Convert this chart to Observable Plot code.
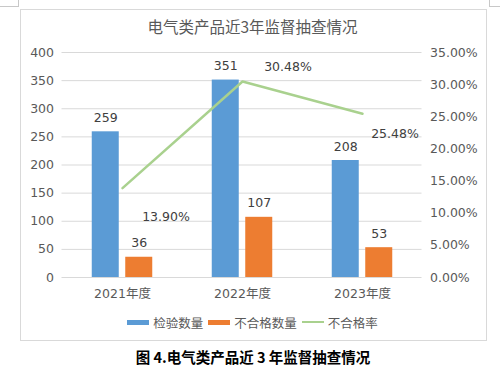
<!DOCTYPE html>
<html>
<head>
<meta charset="utf-8">
<script src="https://cdn.jsdelivr.net/npm/d3@7"></script>
<script src="https://cdn.jsdelivr.net/npm/@observablehq/plot@0.6"></script>
<style>
  html, body { margin: 0; padding: 0; background: #fff; }
  #page { position: relative; width: 500px; height: 378px; overflow: hidden;
          font-family: "DejaVu Sans", "Noto Sans CJK SC", sans-serif; }
  .mark { position: absolute; background: #C8C8C8; }
  #frame { position: absolute; left: 20px; top: 9px; width: 467px; height: 332px;
           box-sizing: border-box; border: 1px solid #D9D9D9; }
  #title { position: absolute; left: 0; width: 505px; top: 16px; text-align: center;
           font-family: "Noto Sans CJK SC", sans-serif; font-size: 15.5px; color: #595959; line-height: 20px; }
  #chart { position: absolute; left: 0; top: 0; }
  #legend { position: absolute; left: 0; width: 505px; top: 313px; height: 18px;
            display: flex; justify-content: center; align-items: center;
            font-family: "Noto Sans CJK SC", sans-serif; font-size: 12.5px; color: #595959; }
  #legend .item { display: flex; align-items: center; margin: 0 2.5px; }
  #legend .sw { width: 22px; margin-right: 4px; }
  #caption { position: absolute; left: 0; width: 506px; top: 346px; text-align: center;
             font-family: "Noto Sans CJK SC", sans-serif; font-weight: bold; font-size: 14.5px; color: #000; line-height: 22px; }
</style>
</head>
<body>
<div id="page">
  <div class="mark" style="left:18px; top:0; width:1px; height:6px;"></div>
  <div class="mark" style="left:0; top:6px; width:19px; height:1px;"></div>
  <div class="mark" style="left:489px; top:0; width:1px; height:6px;"></div>
  <div class="mark" style="left:489px; top:6px; width:11px; height:1px;"></div>
  <div id="frame"></div>
  <div id="title"></div>
  <div id="chart"></div>
  <div id="legend"></div>
  <div id="caption"></div>
</div>
<script>
// ---- data ----
const chartTitle = "电气类产品近3年监督抽查情况";
const captionText = "图 4.电气类产品近 3 年监督抽查情况";
const years = ["2021年度", "2022年度", "2023年度"];
const inspected = [259, 351, 208];        // 检验数量
const failed = [36, 107, 53];             // 不合格数量
const failRate = [13.90, 30.48, 25.48];   // 不合格率 (%)
const seriesNames = ["检验数量", "不合格数量", "不合格率"];
const countTicks = [0, 50, 100, 150, 200, 250, 300, 350, 400];
const rateTicks = [0, 5, 10, 15, 20, 25, 30, 35];
const countMax = 400;
const rateMax = 35;

const colors = ["#5B9BD5", "#ED7D31", "#A9D18E"];

// secondary (rate) axis is drawn on the primary scale: rate -> count space
const toCount = r => r / rateMax * countMax;
const toRate = c => c / countMax * rateMax;

const rows = years.map((y, i) => ({
  year: y,
  inspected: inspected[i],
  failed: failed[i],
  rate: failRate[i],
  rateOnCount: toCount(failRate[i])
}));

document.getElementById("title").textContent = chartTitle;
document.getElementById("caption").textContent = captionText;

const labelOffsets = [[43.5, 29], [45.5, -15], [32.5, 20]];

const chart = Plot.plot({
  width: 500,
  height: 310,
  marginLeft: 61.5,
  marginRight: 78.5,
  marginTop: 52,
  marginBottom: 33,
  style: { fontFamily: '"DejaVu Sans", "Noto Sans CJK SC", sans-serif', fontSize: "12.5px", color: "#595959", background: "transparent", overflow: "visible" },
  x: { domain: years, padding: 0, axis: null },
  y: { domain: [0, countMax], axis: null },
  marks: [
    Plot.gridY(countTicks, { stroke: "#D9D9D9", strokeOpacity: 1 }),
    Plot.barY(rows, { x: "year", y: "inspected", fill: colors[0], insetLeft: 29.75, insetRight: 63.25 }),
    Plot.barY(rows, { x: "year", y: "failed", fill: colors[1], insetLeft: 63.25, insetRight: 29.75 }),
    Plot.line(rows, { x: "year", y: "rateOnCount", stroke: colors[2], strokeWidth: 2.5 }),
    Plot.text(rows, { x: "year", y: "inspected", text: d => String(d.inspected), dx: -16.75, dy: -14, fill: "#404040" }),
    Plot.text(rows, { x: "year", y: "failed", text: d => String(d.failed), dx: 16.75, dy: -14, fill: "#404040" }),
    ...rows.map((r, i) => Plot.text([r], {
      x: "year", y: "rateOnCount", text: d => d.rate.toFixed(2) + "%",
      dx: labelOffsets[i][0], dy: labelOffsets[i][1], fill: "#404040"
    })),
    Plot.axisY(countTicks, { anchor: "left", tickSize: 0, tickPadding: 8, label: null }),
    Plot.axisY(rateTicks.map(toCount), { anchor: "right", tickSize: 0, tickPadding: 8, label: null,
      tickFormat: v => toRate(v).toFixed(2) + "%" }),
    Plot.axisX({ tickSize: 0, tickPadding: 11.5, label: null })
  ]
});
document.getElementById("chart").appendChild(chart);

// legend
const legend = document.getElementById("legend");
seriesNames.forEach((name, i) => {
  const item = document.createElement("div");
  item.className = "item";
  const sw = document.createElement("div");
  sw.className = "sw";
  sw.style.background = colors[i];
  sw.style.height = i === 2 ? "2.5px" : "5px";
  const t = document.createElement("span");
  t.textContent = name;
  item.appendChild(sw);
  item.appendChild(t);
  legend.appendChild(item);
});
</script>
</body>
</html>
